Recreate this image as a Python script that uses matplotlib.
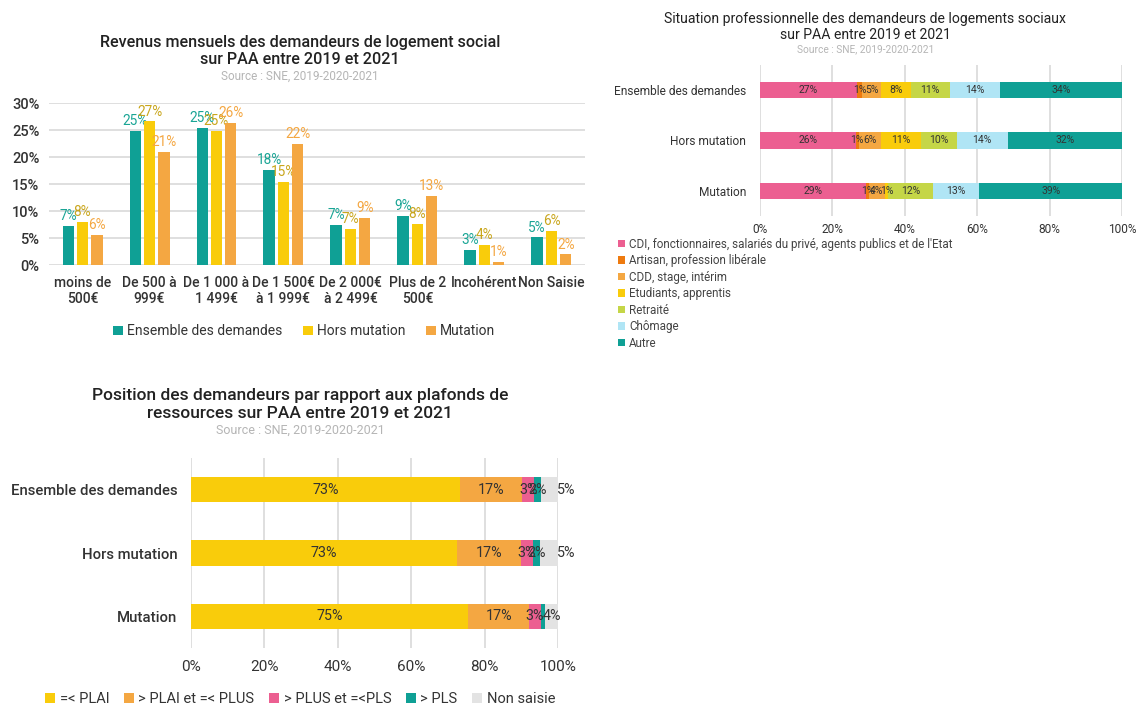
import matplotlib.pyplot as plt
import numpy as np
from matplotlib.ticker import FuncFormatter

plt.rcParams['font.family'] = ['Roboto', 'DejaVu Sans']

# --- revenus mensuels ---
rev_cats = ["moins de\n500€", "De 500 à\n999€", "De 1 000 à\n1 499€", "De 1 500€\nà 1 999€",
            "De 2 000€\nà 2 499€", "Plus de 2\n500€", "Incohérent", "Non Saisie"]
rev_ensemble = [7.2, 24.9, 25.4, 17.6, 7.4, 9.1, 2.8, 5.1]
rev_hors = [8.0, 26.6, 24.9, 15.4, 6.7, 7.6, 3.8, 6.3]
rev_mutation = [5.6, 21.0, 26.3, 22.4, 8.8, 12.8, 0.6, 2.0]

# --- situation professionnelle ---
sit_rows = ["Ensemble des demandes", "Hors mutation", "Mutation"]
sit_labels = ["CDI, fonctionnaires, salariés du privé, agents publics et de l'Etat",
              "Artisan, profession libérale", "CDD, stage, intérim", "Etudiants, apprentis",
              "Retraité", "Chômage", "Autre"]
sit_values = {
    "CDI": [26.9, 26.4, 29.4],
    "Artisan": [1.4, 1.0, 0.7],
    "CDD": [5.2, 6.0, 4.4],
    "Etudiants": [8.2, 11.1, 0.9],
    "Retraite": [10.7, 9.8, 12.4],
    "Chomage": [13.9, 14.2, 12.8],
    "Autre": [33.6, 31.6, 39.4],
}

# --- plafonds de ressources ---
pla_rows = ["Ensemble des demandes", "Hors mutation", "Mutation"]
pla_labels = ["=< PLAI", "> PLAI et =< PLUS", "> PLUS et =<PLS", "> PLS", "Non saisie"]
pla_values = {
    "PLAI": [73.3, 72.6, 75.4],
    "PLUS": [17.0, 17.4, 16.8],
    "PLS_inf": [3.2, 3.1, 3.1],
    "PLS_sup": [1.9, 2.0, 1.2],
    "Non": [4.6, 4.9, 3.5],
}

TEAL = "#0fa095"
YELLOW = "#f9cc0b"
ORANGE = "#f4a742"
GRID = "#d9d9d9"
TXT = "#333333"
SRC = "#b5b5b5"

pct = FuncFormatter(lambda v, p: f"{v:.0f}%")

fig = plt.figure(figsize=(11.37, 7.06), dpi=100)

# ================= chart 1 =================
ax1 = fig.add_axes([0.0431, 0.6246, 0.4714, 0.2295])
x = np.arange(len(rev_cats))
w = 0.165
step = 0.216
series = [(rev_ensemble, TEAL, "#1aa595", "Ensemble des demandes"),
          (rev_hors, YELLOW, "#c9a61c", "Hors mutation"),
          (rev_mutation, ORANGE, "#f4a742", "Mutation")]
for i, (vals, col, lcol, name) in enumerate(series):
    xs = x + (i - 1) * step
    ax1.bar(xs, vals, w, color=col, label=name, zorder=3)
    for xx, v in zip(xs, vals):
        ax1.text(xx, v + 0.5, f"{v:.0f}%", ha="center", va="bottom", color=lcol, fontsize=9.8)
ax1.set_ylim(0, 30)
ax1.set_xlim(-0.5, len(rev_cats) - 0.5)
ax1.set_yticks(range(0, 31, 5))
ax1.yaxis.set_major_formatter(pct)
ax1.set_xticks(x)
ax1.set_xticklabels(rev_cats, fontsize=10, color=TXT, fontweight="medium")
ax1.tick_params(axis="y", labelsize=10.5, labelcolor=TXT, pad=7)
ax1.tick_params(axis="x", pad=8)
ax1.tick_params(length=0)
for lab in ax1.get_yticklabels():
    lab.set_fontweight("medium")
ax1.yaxis.grid(True, color=GRID, lw=1.2, zorder=0)
for s in ax1.spines.values():
    s.set_visible(False)
ax1.legend(loc="center", bbox_to_anchor=(0.476, -0.41), ncol=3, frameon=False,
           fontsize=10, handlelength=0.7, handleheight=0.7, handletextpad=0.3,
           columnspacing=1.5, labelcolor=TXT)
fig.text(0.264, 0.928, "Revenus mensuels des demandeurs de logement social\nsur PAA entre 2019 et 2021",
         ha="center", va="center", fontsize=11.6, color="#222222", fontweight="medium", linespacing=1.2)
fig.text(0.264, 0.892, "Source : SNE, 2019-2020-2021", ha="center", va="center", fontsize=8.5, color=SRC)

# ================= chart 2 =================
ax2 = fig.add_axes([0.6684, 0.6941, 0.3184, 0.2139])
sit_colors = ["#ec5f91", "#ee7a0f", "#f4a742", "#f9cc0b", "#c5d647", "#b0e5f5", TEAL]
left = np.zeros(len(sit_rows))
y2 = np.arange(len(sit_rows))
for (key, vals), col, lab in zip(sit_values.items(), sit_colors, sit_labels):
    vals = np.array(vals)
    ax2.barh(y2, vals, 0.32, left=left, color=col, label=lab, zorder=3)
    for yy, l, v in zip(y2, left, vals):
        ax2.text(l + v / 2, yy, f"{v:.0f}%", ha="center", va="center", fontsize=7.5, color=TXT, zorder=4)
    left += vals
ax2.set_ylim(2.5, -0.5)
ax2.set_xlim(0, 100)
ax2.set_xticks(range(0, 101, 20))
ax2.xaxis.set_major_formatter(pct)
ax2.set_yticks(y2)
ax2.set_yticklabels(sit_rows, fontsize=8.6, color=TXT)
ax2.tick_params(axis="x", labelsize=8.6, labelcolor=TXT, pad=5)
ax2.tick_params(length=0)
ax2.tick_params(axis="y", pad=10)
ax2.xaxis.grid(True, color=GRID, lw=1.2, zorder=0)
for s in ax2.spines.values():
    s.set_visible(False)
ax2.legend(loc="upper left", bbox_to_anchor=(-0.42, -0.075), ncol=1, frameon=False,
           fontsize=8.4, handlelength=0.6, handleheight=0.6, handletextpad=0.3,
           labelspacing=0.3, labelcolor="#444444")
fig.text(0.761, 0.962, "Situation professionnelle des demandeurs de logements sociaux\nsur PAA entre 2019 et 2021",
         ha="center", va="center", fontsize=10.1, color="#222222", linespacing=1.15)
fig.text(0.761, 0.931, "Source : SNE, 2019-2020-2021", ha="center", va="center", fontsize=7.3, color=SRC)

# ================= chart 3 =================
ax3 = fig.add_axes([0.168, 0.0822, 0.3228, 0.269])
pla_colors = [YELLOW, ORANGE, "#ec5f91", TEAL, "#e3e3e3"]
left = np.zeros(len(pla_rows))
y3 = np.arange(len(pla_rows))
nkeys = len(pla_values)
for k, ((key, vals), col, lab) in enumerate(zip(pla_values.items(), pla_colors, pla_labels)):
    vals = np.array(vals)
    ax3.barh(y3, vals, 0.4, left=left, color=col, label=lab, zorder=3)
    for r, (yy, l, v) in enumerate(zip(y3, left, vals)):
        if v < 1.5:
            continue
        if k == nkeys - 1 and r < 2:
            ax3.text(l + v - 0.4, yy, f"{v:.0f}%", ha="left", va="center", fontsize=10.3, color=TXT, zorder=4)
        else:
            ax3.text(l + v / 2, yy, f"{v:.0f}%", ha="center", va="center", fontsize=10.3, color=TXT, zorder=4)
    left += vals
ax3.set_ylim(2.5, -0.5)
ax3.set_xlim(0, 100)
ax3.set_xticks(range(0, 101, 20))
ax3.xaxis.set_major_formatter(pct)
ax3.set_yticks(y3)
ax3.set_yticklabels(pla_rows, fontsize=10.7, color=TXT, fontweight="medium")
ax3.tick_params(axis="x", labelsize=11, labelcolor=TXT, pad=9)
ax3.tick_params(length=0)
ax3.tick_params(axis="y", pad=10)
ax3.xaxis.grid(True, color=GRID, lw=1.2, zorder=0)
for s in ax3.spines.values():
    s.set_visible(False)
ax3.legend(loc="center", bbox_to_anchor=(0.297, -0.27), ncol=5, frameon=False,
           fontsize=10.5, handlelength=0.7, handleheight=0.7, handletextpad=0.3,
           columnspacing=1.0, labelcolor=TXT)
fig.text(0.264, 0.427, "Position des demandeurs par rapport aux plafonds de\nressources sur PAA entre 2019 et 2021",
         ha="center", va="center", fontsize=12.5, color="#222222", fontweight="medium", linespacing=1.2)
fig.text(0.264, 0.391, "Source : SNE, 2019-2020-2021", ha="center", va="center", fontsize=9, color=SRC)

fig.savefig("out.png", dpi=100)
